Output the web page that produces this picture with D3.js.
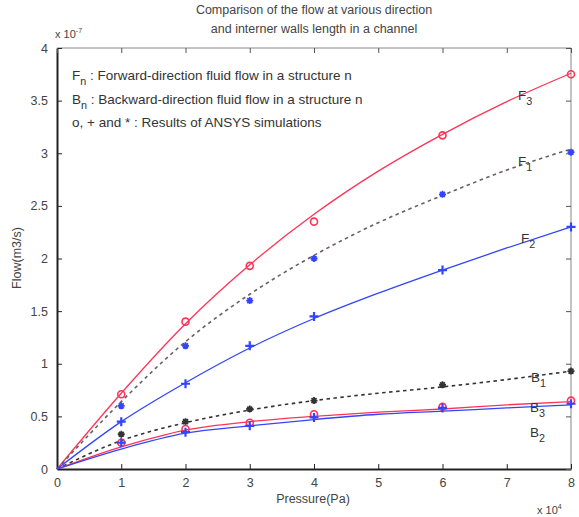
<!DOCTYPE html>
<html><head><meta charset="utf-8">
<script src="https://cdn.jsdelivr.net/npm/d3@7"></script>
<style>
body{margin:0;background:#fff;}
text{font-family:"Liberation Sans",Arial,sans-serif;}
</style></head>
<body><svg id="c" width="579" height="517"></svg>
<script>
// ---- data (x in 1e4 Pa, y in 1e-7 m3/s)
const simX = [1, 2, 3, 4, 6, 8];
const curveX = [0, 1, 2, 3, 4, 5, 6, 7, 8];
const F3_sim = [0.71, 1.40, 1.93, 2.35, 3.17, 3.75];
const F1_sim = [0.60, 1.17, 1.60, 2.00, 2.61, 3.01];
const F2_sim = [0.45, 0.81, 1.17, 1.45, 1.89, 2.30];
const B1_sim = [0.33, 0.45, 0.57, 0.65, 0.80, 0.93];
const B3_sim = [0.25, 0.38, 0.44, 0.52, 0.59, 0.65];
const B2_sim = [0.25, 0.35, 0.41, 0.49, 0.58, 0.62];
const F3_fit = [0, 0.72, 1.38, 1.94, 2.42, 2.83, 3.18, 3.49, 3.76];
const F1_fit = [0, 0.64, 1.21, 1.66, 2.03, 2.34, 2.60, 2.84, 3.04];
const F2_fit = [0, 0.45, 0.82, 1.15, 1.43, 1.67, 1.89, 2.10, 2.30];
const B1_fit = [0, 0.27, 0.44, 0.56, 0.65, 0.72, 0.78, 0.85, 0.93];
const B3_fit = [0, 0.21, 0.37, 0.45, 0.50, 0.54, 0.57, 0.61, 0.64];
const B2_fit = [0, 0.19, 0.34, 0.41, 0.47, 0.52, 0.55, 0.58, 0.61];
const xTicks = [0, 1, 2, 3, 4, 5, 6, 7, 8];
const yTicks = [0, 0.5, 1, 1.5, 2, 2.5, 3, 3.5, 4];
const titleLines = ["Comparison of the flow at various direction", "and  interner walls length  in a channel"];

const svg = d3.select("#c");
const L = 57, R = 571, T = 48, B = 469;
const x = d3.scaleLinear().domain([0, 8]).range([L, R]);
const y = d3.scaleLinear().domain([0, 4]).range([B, T]);

const red = "#ff3355", blue = "#3344ff", dark = "#333";
const txt = "#444";

// box
svg.append("line").attr("x1", L).attr("x2", R).attr("y1", T).attr("y2", T).attr("stroke", "#888").attr("stroke-width", 1);
svg.append("line").attr("x1", R).attr("x2", R).attr("y1", T).attr("y2", B).attr("stroke", "#888").attr("stroke-width", 1);

// axes (inward ticks)
const gx = svg.append("g").attr("transform", `translate(0,${B})`)
  .call(d3.axisBottom(x).tickValues(xTicks).tickFormat(d3.format("d")).tickSizeInner(-5).tickSizeOuter(0).tickPadding(9));
const gy = svg.append("g").attr("transform", `translate(${L},0)`)
  .call(d3.axisLeft(y).tickValues(yTicks).tickFormat(d => String(d)).tickSizeInner(-5).tickSizeOuter(0).tickPadding(9));
const gxt = svg.append("g").attr("transform", `translate(0,${T})`)
  .call(d3.axisTop(x).tickValues(xTicks).tickFormat("").tickSizeInner(-5).tickSizeOuter(0));
const gyr = svg.append("g").attr("transform", `translate(${R},0)`)
  .call(d3.axisRight(y).tickValues(yTicks).tickFormat("").tickSizeInner(-5).tickSizeOuter(0));
[gx, gy].forEach(g => {
  g.select(".domain").attr("stroke", "#222").attr("stroke-width", 2);
  g.selectAll(".tick line").attr("stroke", "#222");
  g.selectAll("text").attr("font-size", 12.5).attr("fill", txt).attr("font-family", "'Liberation Sans',Arial,sans-serif");
});
[gxt, gyr].forEach(g => {
  g.select(".domain").remove();
  g.selectAll(".tick line").attr("stroke", "#555");
});

// titles & labels
svg.append("text").attr("x", 314).attr("y", 14).attr("text-anchor", "middle").attr("font-size", 12.5).attr("fill", txt).text(titleLines[0]);
svg.append("text").attr("x", 314).attr("y", 33).attr("text-anchor", "middle").attr("font-size", 12.5).attr("fill", txt).text(titleLines[1]);
svg.append("text").attr("x", 313).attr("y", 503).attr("text-anchor", "middle").attr("font-size", 12.5).attr("fill", txt).text("Pressure(Pa)");
svg.append("text").attr("transform", "translate(21,258) rotate(-90)").attr("text-anchor", "middle").attr("font-size", 12.5).attr("fill", txt).text("Flow(m3/s)");
// exponents
const e1 = svg.append("text").attr("x", 55).attr("y", 38).attr("font-size", 11).attr("fill", txt);
e1.append("tspan").text("x 10");
e1.append("tspan").attr("dy", -5).attr("font-size", 7).text("-7");
const e2 = svg.append("text").attr("x", 537).attr("y", 514).attr("font-size", 11).attr("fill", txt);
e2.append("tspan").text("x 10");
e2.append("tspan").attr("dy", -5).attr("font-size", 7).text("4");

// annotation text
function subLabel(px, py, main, sub, size) {
  const t = svg.append("text").attr("x", px).attr("y", py).attr("font-size", size).attr("fill", "#333");
  t.append("tspan").text(main);
  t.append("tspan").attr("dy", 5).attr("font-size", size * 0.8).text(sub);
  return t;
}
const n1 = subLabel(72, 80, "F", "n", 13.5);
n1.append("tspan").attr("dy", -5).text(" : Forward-direction fluid flow in a structure n");
const n2 = subLabel(72, 104, "B", "n", 13.5);
n2.append("tspan").attr("dy", -5).text(" : Backward-direction fluid flow in a structure n");
svg.append("text").attr("x", 72).attr("y", 127).attr("font-size", 13.5).attr("fill", "#333").text("o, + and * : Results of ANSYS simulations");

// curves
const line = d3.line().x((d, i) => x(curveX[i])).y(d => y(d)).curve(d3.curveMonotoneX);
const curves = [
  {d: F3_fit, c: red, dash: null},
  {d: F1_fit, c: "#6a6060", dash: "3.5,3.5"},
  {d: F2_fit, c: blue, dash: null},
  {d: B1_fit, c: dark, dash: "3.5,3.5"},
  {d: B3_fit, c: red, dash: null},
  {d: B2_fit, c: blue, dash: null}
];
curves.forEach(cv => {
  svg.append("path").attr("d", line(cv.d)).attr("fill", "none").attr("stroke", cv.c)
    .attr("stroke-width", cv.dash ? 1.6 : 1.3).attr("stroke-dasharray", cv.dash);
});

// markers
function circles(vals, col) {
  svg.append("g").selectAll("circle").data(vals).join("circle")
    .attr("cx", (d, i) => x(simX[i])).attr("cy", d => y(d)).attr("r", 3.5)
    .attr("fill", "none").attr("stroke", col).attr("stroke-width", 1.6);
}
function pluses(vals, col) {
  const s = 4.5;
  svg.append("g").selectAll("path").data(vals).join("path")
    .attr("d", (d, i) => { const cx = x(simX[i]), cy = y(d); return `M${cx - s},${cy}H${cx + s}M${cx},${cy - s}V${cy + s}`; })
    .attr("stroke", col).attr("stroke-width", 2.2).attr("fill", "none");
}
function stars(vals, col) {
  const s = 3.5;
  svg.append("g").selectAll("path").data(vals).join("path")
    .attr("d", (d, i) => {
      const cx = x(simX[i]), cy = y(d), k = s * 0.7;
      return `M${cx - s},${cy}H${cx + s}M${cx},${cy - s}V${cy + s}M${cx - k},${cy - k}L${cx + k},${cy + k}M${cx - k},${cy + k}L${cx + k},${cy - k}`;
    })
    .attr("stroke", col).attr("stroke-width", 1.8).attr("fill", "none");
}
circles(F3_sim, red);
stars(F1_sim, blue);
pluses(F2_sim, blue);
stars(B1_sim, dark);
circles(B3_sim, red);
pluses(B2_sim, blue);

// series labels
subLabel(518, 100, "F", "3", 13.5);
subLabel(518, 166, "F", "1", 13.5);
subLabel(521, 243, "F", "2", 13.5);
subLabel(531, 382, "B", "1", 13.5);
subLabel(530, 412, "B", "3", 13.5);
subLabel(530, 437, "B", "2", 13.5);
</script></body></html>
